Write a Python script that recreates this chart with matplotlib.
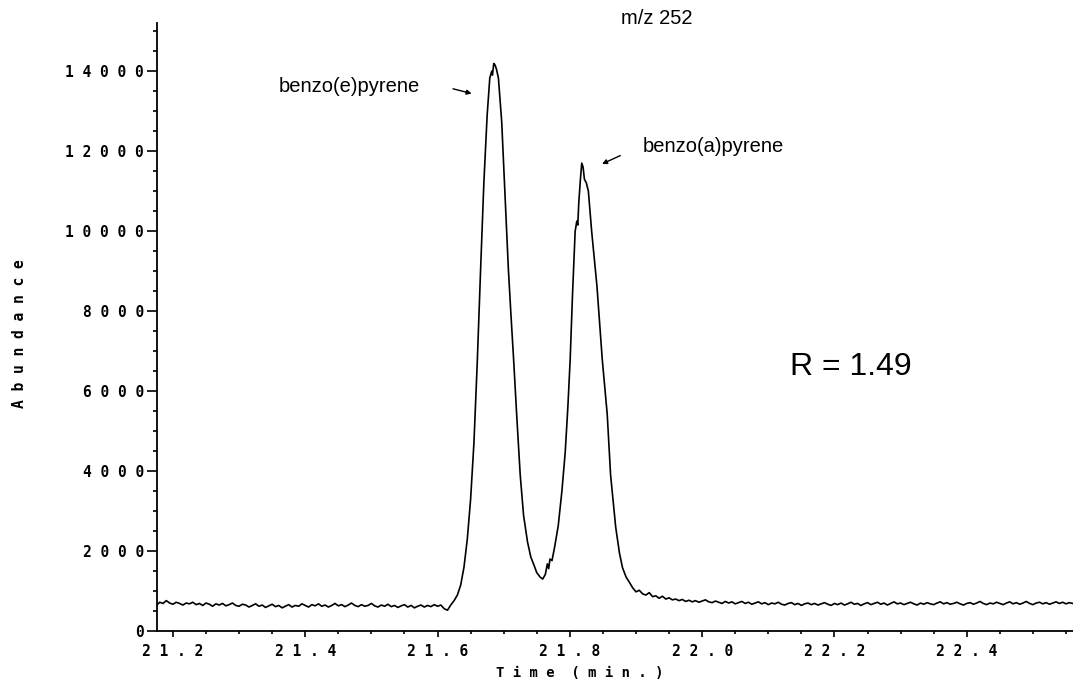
import numpy as np
import matplotlib
matplotlib.use("Agg")
import matplotlib.pyplot as plt
from matplotlib.ticker import MultipleLocator

# Ion chromatogram m/z 252
# left baseline, sampled every 0.005 min from 21.175
base_left_t0 = 21.175
base_left = [640, 720, 690, 760, 700, 670, 720, 690, 650, 700, 680, 720, 660, 690, 640,
             700, 670, 620, 680, 650, 690, 630, 660, 700, 640, 620, 670, 650, 600, 640,
             680, 620, 650, 590, 630, 670, 610, 640, 580, 620, 660, 600, 640, 620, 680,
             640, 600, 660, 630, 680, 620, 650, 600, 640, 690, 630, 660, 610, 650, 700,
             640, 610, 660, 620, 640, 690, 630, 600, 650, 620, 670, 610, 640, 590, 630,
             660, 600, 640, 580, 620, 650, 600, 640, 610, 660, 620, 650, 560, 520]

# the two peaks
peak_t = [21.620, 21.625, 21.630, 21.635, 21.640, 21.645, 21.650, 21.655, 21.660, 21.665,
          21.670, 21.675, 21.679, 21.682, 21.683, 21.685, 21.687, 21.689, 21.692, 21.697,
          21.702, 21.707, 21.711, 21.715, 21.720, 21.725, 21.730, 21.736, 21.741, 21.746,
          21.750, 21.755, 21.759, 21.763, 21.766, 21.768, 21.770, 21.773, 21.777, 21.7825,
          21.788, 21.793, 21.797, 21.8005, 21.804, 21.808, 21.8105, 21.812, 21.8135, 21.816,
          21.818, 21.820, 21.822, 21.825, 21.828, 21.833, 21.841, 21.849, 21.8565, 21.8616,
          21.8693, 21.875, 21.8796, 21.885, 21.890, 21.895, 21.900, 21.905, 21.910, 21.915,
          21.920, 21.925, 21.930, 21.935, 21.940, 21.945, 21.950, 21.955, 21.960]
peak_v = [650, 760, 900, 1150, 1600, 2300, 3300, 4700, 6700, 9000,
          11200, 12900, 13830, 14000, 13900, 14190, 14150, 14050, 13830, 12730,
          10900, 9075, 7900, 6790, 5300, 3900, 2900, 2228, 1850, 1640,
          1460, 1350, 1300, 1420, 1680, 1560, 1800, 1760, 2100, 2640,
          3500, 4470, 5600, 6790, 8400, 9990, 10250, 10150, 10710, 11300,
          11700, 11600, 11300, 11200, 11000, 9990, 8620, 6790, 5420, 3900,
          2600, 1950, 1585, 1350, 1219, 1080, 980, 1020, 930, 900,
          960, 860, 880, 820, 870, 800, 830, 780, 800]

# right baseline, sampled every 0.005 min from 21.965
base_right_t0 = 21.965
base_right = [760, 790, 740, 770, 730, 760, 720, 750, 780, 730, 710, 750, 720, 690, 740,
              700, 730, 680, 710, 740, 690, 720, 670, 700, 730, 680, 710, 660, 700, 680,
              720, 670, 650, 690, 710, 660, 690, 640, 680, 700, 660, 690, 650, 680, 710,
              670, 640, 690, 660, 700, 650, 680, 720, 670, 690, 640, 680, 710, 660, 690,
              720, 670, 700, 650, 690, 730, 680, 700, 660, 690, 720, 680, 650, 700, 670,
              710, 680, 660, 700, 730, 680, 710, 670, 690, 720, 680, 650, 690, 710, 670,
              700, 740, 690, 660, 700, 680, 720, 690, 660, 700, 730, 680, 710, 670, 700,
              740, 690, 660, 700, 720, 680, 710, 670, 700, 730, 690, 720, 680, 710, 690]

x_ticks = [21.2, 21.4, 21.6, 21.8, 22.0, 22.2, 22.4]
x_tick_labels = ['21.2', '21.4', '21.6', '21.8', '22.0', '22.2', '22.4']
y_ticks = [0, 2000, 4000, 6000, 8000, 10000, 12000, 14000]
y_tick_labels = ['0', '2000', '4000', '6000', '8000', '10000', '12000', '14000']

t_left = base_left_t0 + 0.005 * np.arange(len(base_left))
t_right = base_right_t0 + 0.005 * np.arange(len(base_right))
time = np.concatenate([t_left, peak_t, t_right])
abund = np.concatenate([base_left, peak_v, base_right])


def spaced(s):
    # plotter style: wide letter spacing
    return ' '.join(s)


mono = 'DejaVu Sans Mono'
sans = 'Liberation Sans'

fig = plt.figure(figsize=(10.73, 6.8), dpi=100)
ax = fig.add_axes([0.146, 0.072, 0.854, 0.894])

ax.plot(time, abund, color='black', lw=1.2)

ax.set_xlim(21.1754, 22.5606)
ax.set_ylim(0, 15200)

for s in ['top', 'right']:
    ax.spines[s].set_visible(False)
for s in ['left', 'bottom']:
    ax.spines[s].set_linewidth(1.3)

ax.set_xticks(x_ticks)
ax.set_xticklabels([spaced(l) for l in x_tick_labels], family=mono, fontsize=10.5,
                   weight='bold')
ax.set_yticks(y_ticks)
ax.set_yticklabels([spaced(l) for l in y_tick_labels], family=mono, fontsize=10.5,
                   weight='bold')
ax.xaxis.set_minor_locator(MultipleLocator(0.05))
ax.yaxis.set_minor_locator(MultipleLocator(500))
ax.tick_params(axis='x', which='major', direction='out', length=4.5, width=1.2, pad=5)
ax.tick_params(axis='x', which='minor', direction='out', length=2.5, width=1.2)
ax.tick_params(axis='y', which='major', direction='out', length=7, width=1.2, pad=2)
ax.tick_params(axis='y', which='minor', direction='out', length=3, width=1.2)

fig.text(0.0186, 0.509, spaced('Abundance'), rotation=90, family=mono,
         fontsize=10.5, weight='bold', ha='center', va='center')
fig.text(580 / 1073, 1 - 673 / 680, spaced('Time (min.)').replace('   ', '  '),
         family=mono, fontsize=10, weight='bold', ha='center', va='center')

fig.text(657 / 1073, 1 - 18 / 680, 'm/z 252', family=sans, fontsize=14.5,
         ha='center', va='center')

ax.annotate('', xy=(21.6556, 13422), xytext=(21.6193, 13575),
            arrowprops=dict(arrowstyle='-|>', color='black', lw=1, mutation_scale=7))
ax.text(21.3606, 13618, 'benzo(e)pyrene', family=sans, fontsize=14.5,
        ha='left', va='center')

ax.annotate('', xy=(21.8449, 11650), xytext=(21.8801, 11917),
            arrowprops=dict(arrowstyle='-|>', color='black', lw=1, mutation_scale=7))
ax.text(21.9098, 12115, 'benzo(a)pyrene', family=sans, fontsize=14.5,
        ha='left', va='center')

ax.text(22.1325, 6600, 'R = 1.49', family=sans, fontsize=23, ha='left', va='center')

fig.savefig('out.png', dpi=100)
